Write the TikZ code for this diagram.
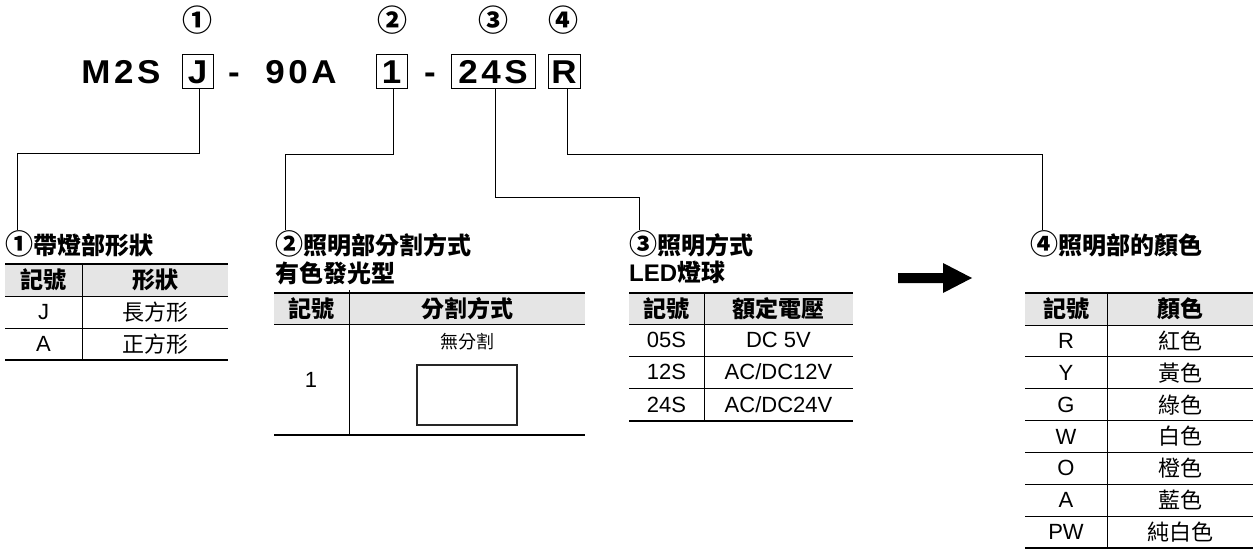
\documentclass[tikz,border=0pt]{standalone}
\usepackage{fontspec}
\setmainfont{Liberation Sans}
\newfontfamily\cjk{Noto Sans CJK TC}
\newfontfamily\codefont[LetterSpace=11,FakeStretch=1.06]{Liberation Sans}
\definecolor{hdr}{gray}{0.9}
\newcommand{\circbig}[1]{{\fontsize{28}{28}\selectfont #1}}
\tikzset{
  thickrule/.style={line width=1.8pt},
  thinrule/.style={line width=0.8pt},
  conn/.style={line width=0.9pt},
  cell/.style={inner sep=0pt, font=\fontsize{22}{24}\selectfont},
  cellcjk/.style={inner sep=0pt, font=\fontsize{22}{24}\selectfont\cjk},
  hcell/.style={inner sep=0pt, font=\fontsize{23}{25}\selectfont\cjk\bfseries},
  small/.style={inner sep=0pt, font=\fontsize{18}{20}\selectfont\cjk},
  title/.style={inner sep=0pt, anchor=base west, font=\fontsize{24}{26}\selectfont\cjk\bfseries},
  codetext/.style={inner sep=0pt, text height=25.6pt, text depth=0pt, font=\fontsize{33}{35}\selectfont\codefont\bfseries},
  codebox/.style={codetext, draw, line width=0.9pt, minimum height=34pt},
  circnum/.style={inner sep=0pt, font=\fontsize{30}{31}\selectfont\cjk\bfseries},
}
\begin{document}
\begin{tikzpicture}[x=1pt,y=-1pt]
\useasboundingbox (0,0) rectangle (1253,551);

% ---- model code ----
\node[codetext] (m2s) at (121,71) {M2S};
\node[codebox, minimum width=31pt] (bJ) at (197.5,71) {J};
\node[codetext] (d1) at (234,71) {-};
\node[codetext] (n90) at (301,71) {90A};
\node[codebox, minimum width=31pt] (b1) at (391.5,71) {1};
\node[codetext] (d2) at (430,71) {-};
\node[codebox, minimum width=84pt] (b24) at (493,71) {24S};
\node[codebox, minimum width=32pt] (bR) at (564,71) {R};

\node[circnum] (c1) at (197,20) {①};
\node[circnum] (c2) at (392,20) {②};
\node[circnum] (c3) at (493,20) {③};
\node[circnum] (c4) at (563,20) {④};

% ---- titles ----
\node[title] (t1) at (5,254) {\circbig{①}帶燈部形狀};
\node[title] (t2) at (275,254) {\circbig{②}照明部分割方式};
\node[title] (t2b) at (275,282) {有色發光型};
\node[title] (t3) at (629,254) {\circbig{③}照明方式};
\node[title] (t3b) at (629,281) {{\rmfamily LED}燈球};
\node[title] (t4) at (1030,254) {\circbig{④}照明部的顏色};

% ---- connectors ----
\coordinate (k1) at (17,153);
\coordinate (k2) at (285,154);
\coordinate (k3) at (639,197);
\coordinate (k4) at (1042,154);
\draw[conn] ([xshift=1.5pt]bJ.south) |- (k1) -- (k1 |- t1.north);
\draw[conn] ([xshift=1.5pt]b1.south) |- (k2) -- (k2 |- t2.north);
\draw[conn] ([xshift=2pt]b24.south) |- (k3) -- (k3 |- t3.north);
\draw[conn] ([xshift=3.5pt]bR.south) |- (k4) -- (k4 |- t4.north);

% ---- table 1 ----
\fill[hdr] (5,264) rectangle (228,296);
\draw[thickrule] (5,264) -- (228,264);
\draw[thinrule] (5,296) -- (228,296);
\draw[thinrule] (5,328) -- (228,328);
\draw[thickrule] (5,360) -- (228,360);
\draw[thinrule] (82,264) -- (82,360);
\node[hcell] (t1h1) at (43.5,280) {記號};
\node[hcell] (t1h2) at (155,280) {形狀};
\node[cell] (t1a1) at (43.5,312) {J};
\node[cellcjk] (t1b1) at (155,312) {長方形};
\node[cell] (t1a2) at (43.5,344) {A};
\node[cellcjk] (t1b2) at (155,344) {正方形};

% ---- table 2 ----
\fill[hdr] (274,293) rectangle (585,324);
\draw[thickrule] (274,293) -- (585,293);
\draw[thinrule] (274,324) -- (585,324);
\draw[thickrule] (274,435) -- (585,435);
\draw[thinrule] (349,290) -- (349,435);
\node[hcell] (t2h1) at (311.5,308.5) {記號};
\node[hcell] (t2h2) at (467,308.5) {分割方式};
\node[cell] (t2a1) at (311,380) {1};
\node[small] (t2b1) at (467,342) {無分割};
\draw[line width=1.2pt, draw=black!85] (417,365) rectangle (517,425);

% ---- table 3 ----
\fill[hdr] (629,293) rectangle (853,324);
\draw[thickrule] (629,293) -- (853,293);
\draw[thinrule] (629,324) -- (853,324);
\draw[thinrule] (629,356) -- (853,356);
\draw[thinrule] (629,388) -- (853,388);
\draw[thickrule] (629,421) -- (853,421);
\draw[thinrule] (704,293) -- (704,421);
\node[hcell] (t3h1) at (666.5,308.5) {記號};
\node[hcell] (t3h2) at (778.5,308.5) {額定電壓};
\node[cell] (t3a1) at (666.5,340) {05S};
\node[cell] (t3b1) at (778.5,340) {DC 5V};
\node[cell] (t3a2) at (666.5,372) {12S};
\node[cell] (t3b2) at (778.5,372) {AC/DC12V};
\node[cell] (t3a3) at (666.5,404.5) {24S};
\node[cell] (t3b3) at (778.5,404.5) {AC/DC24V};

% ---- arrow ----
\fill (898,273) -- (943,273) -- (943,263) -- (972,278) -- (943,293) -- (943,283) -- (898,283) -- cycle;

% ---- table 4 ----
\fill[hdr] (1025,293) rectangle (1253,325);
\draw[thickrule] (1025,293) -- (1253,293);
\draw[thinrule] (1025,325) -- (1253,325);
\foreach \i in {1,...,6} \draw[thinrule] (1025,{325+31.86*\i}) -- (1253,{325+31.86*\i});
\draw[thickrule] (1025,548) -- (1253,548);
\draw[thinrule] (1107,293) -- (1107,548);
\node[hcell] (t4h1) at (1066,309) {記號};
\node[hcell] (t4h2) at (1180,309) {顏色};
\foreach \s/\c [count=\i] in {R/紅色,Y/黃色,G/綠色,W/白色,O/橙色,A/藍色,PW/純白色} {
  \node[cell] (t4a\i) at (1066,{325+31.86*\i-15.93}) {\s};
  \node[cellcjk] (t4b\i) at (1180,{325+31.86*\i-15.93}) {\c};
}
\end{tikzpicture}
\end{document}
